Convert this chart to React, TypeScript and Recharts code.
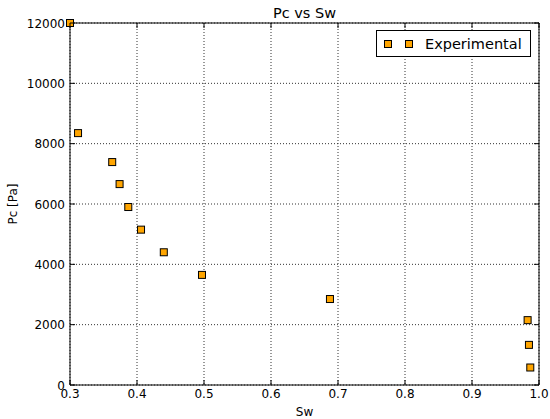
import { ScatterChart, Scatter, XAxis, YAxis, CartesianGrid, Legend } from 'recharts';

const swValues = [0.3, 0.312, 0.363, 0.374, 0.387, 0.406, 0.44, 0.497, 0.688, 0.983, 0.985, 0.987];
const pcValues = [12000, 8350, 7390, 6660, 5900, 5150, 4400, 3650, 2850, 2150, 1330, 580];
const xTicks = [0.3, 0.4, 0.5, 0.6, 0.7, 0.8, 0.9, 1.0];
const yTicks = [0, 2000, 4000, 6000, 8000, 10000, 12000];

const points = swValues.map((sw, i) => ({ sw, pc: pcValues[i] }));

const FONT = '"DejaVu Sans", sans-serif';
const ORANGE = '#ffa500';

function Square(props: any) {
    const { cx, cy } = props;
    if (cx == null || cy == null) return null;
    return <rect x={cx - 3.5} y={cy - 3.5} width={7} height={7} fill={ORANGE} stroke="#000" strokeWidth={1} />;
}

function BottomTick({ x, y, payload }: any) {
    return (
        <g>
            <line x1={x} x2={x} y1={y} y2={y - 5} stroke="#000" />
            <text x={x} y={y + 13} textAnchor="middle" fontSize={12} fontFamily={FONT} fill="#000">
                {Number(payload.value).toFixed(1)}
            </text>
        </g>
    );
}

function TopTick({ x, y }: any) {
    return <line x1={x} x2={x} y1={y} y2={y + 5} stroke="#000" />;
}

function LeftTick({ x, y, payload }: any) {
    return (
        <g>
            <line x1={x} x2={x + 5} y1={y} y2={y} stroke="#000" />
            <text x={x - 5} y={y + 4.5} textAnchor="end" fontSize={12} fontFamily={FONT} fill="#000">
                {payload.value}
            </text>
        </g>
    );
}

function RightTick({ x, y }: any) {
    return <line x1={x} x2={x - 5} y1={y} y2={y} stroke="#000" />;
}

function Title({ viewBox }: any) {
    const { x, width } = viewBox;
    return (
        <text x={x + width / 2} y={18} textAnchor="middle" fontSize={14.5} fontFamily={FONT} fill="#000">
            Pc vs Sw
        </text>
    );
}

function LegendBox() {
    return (
        <div
            style={{
                width: 153,
                height: 25,
                border: '1px solid #000',
                background: '#fff',
                display: 'flex',
                alignItems: 'center',
                fontFamily: FONT,
                fontSize: 14.5,
                boxSizing: 'content-box',
            }}
        >
            <svg width={48} height={25}>
                <rect x={7.5} y={9.5} width={7} height={7} fill={ORANGE} stroke="#000" />
                <rect x={28.5} y={9.5} width={7} height={7} fill={ORANGE} stroke="#000" />
            </svg>
            <span>Experimental</span>
        </div>
    );
}

export default function App() {
    return (
        <div style={{ position: 'absolute', left: 0, top: 0, background: '#fff' }}>
            <ScatterChart
                width={550}
                height={419}
                margin={{ top: 0, right: 0, left: 0, bottom: 0 }}
                style={{ fontFamily: FONT }}
            >
                <CartesianGrid
                    xAxisId="bottom"
                    yAxisId="left"
                    stroke="#333"
                    strokeDasharray="1 2"
                    strokeWidth={1}
                    horizontalValues={yTicks}
                    verticalValues={xTicks}
                />
                <XAxis
                    xAxisId="bottom"
                    dataKey="sw"
                    type="number"
                    domain={[0.3, 1.0]}
                    ticks={xTicks}
                    height={34}
                    tickSize={0}
                    tickMargin={0}
                    tickLine={false}
                    axisLine={{ stroke: '#000' }}
                    tick={<BottomTick />}
                    interval={0}
                    label={{ value: 'Sw', position: 'insideBottom', offset: 3, fontSize: 12, fill: '#000' }}
                />
                <XAxis
                    xAxisId="top"
                    orientation="top"
                    dataKey="sw"
                    type="number"
                    domain={[0.3, 1.0]}
                    ticks={xTicks}
                    height={23}
                    tickSize={0}
                    tickMargin={0}
                    tickLine={false}
                    axisLine={{ stroke: '#000' }}
                    tick={<TopTick />}
                    interval={0}
                    label={<Title />}
                />
                <YAxis
                    yAxisId="left"
                    dataKey="pc"
                    type="number"
                    domain={[0, 12000]}
                    ticks={yTicks}
                    width={70}
                    tickSize={0}
                    tickMargin={0}
                    tickLine={false}
                    axisLine={{ stroke: '#000' }}
                    tick={<LeftTick />}
                    interval={0}
                    label={{
                        value: 'Pc [Pa]',
                        angle: -90,
                        position: 'insideLeft',
                        offset: 13,
                        fontSize: 12,
                        fill: '#000',
                        style: { textAnchor: 'middle' },
                    }}
                />
                <YAxis
                    yAxisId="right"
                    orientation="right"
                    dataKey="pc"
                    type="number"
                    domain={[0, 12000]}
                    ticks={yTicks}
                    width={11}
                    tickSize={0}
                    tickMargin={0}
                    tickLine={false}
                    axisLine={{ stroke: '#000' }}
                    tick={<RightTick />}
                    interval={0}
                />
                <Legend
                    layout="horizontal"
                    verticalAlign="middle"
                    align="center"
                    content={<LegendBox />}
                    wrapperStyle={{ position: 'absolute', left: 376, top: 30, width: 155 }}
                />
                <Scatter
                    name="Experimental"
                    data={points}
                    xAxisId="bottom"
                    yAxisId="left"
                    shape={<Square />}
                    isAnimationActive={false}
                />
                <Scatter
                    name="frame"
                    data={points}
                    xAxisId="top"
                    yAxisId="right"
                    shape={() => null}
                    legendType="none"
                    isAnimationActive={false}
                />
            </ScatterChart>
        </div>
    );
}
